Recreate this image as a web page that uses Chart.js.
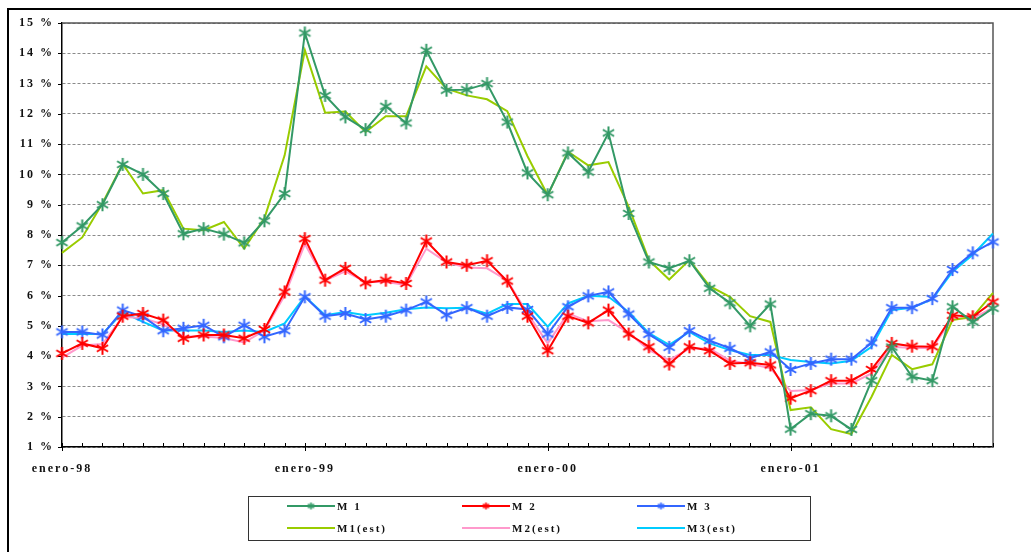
<!DOCTYPE html>
<html lang="es">
<head>
<meta charset="UTF-8">
<title>M1 M2 M3</title>
<script src="https://cdn.jsdelivr.net/npm/chart.js"></script>
<style>
  body { margin: 0; background: #fff; overflow: hidden; }
  #wrap { position: relative; width: 1031px; height: 552px; }
  #frame { position: absolute; left: 7px; top: 8px; width: 1040px; height: 560px; border: 2px solid #000; }
  #c { position: absolute; left: 0; top: 0; }
  #legend { position: absolute; left: 248px; top: 496px; width: 561px; height: 43px; border: 1px solid #333;
            font: bold 11px "Liberation Serif", serif; letter-spacing: 2px; color: #111; }
  #legend .it { position: absolute; display: flex; align-items: center; height: 16px; }
  #legend canvas { display: block; margin-right: 2px; }
</style>
</head>
<body>
<div id="wrap">
  <div id="frame"></div>
  <canvas id="c" width="1031" height="552"></canvas>
  <div id="legend"></div>
</div>
<script>
// datos mensuales, enero-98 .. noviembre-01
const yearLabels = ['enero-98', 'enero-99', 'enero-00', 'enero-01'];
const seriesNames = ['M 1', 'M 2', 'M 3', 'M1(est)', 'M2(est)', 'M3(est)'];

const m1 = [7.75, 8.3, 9.0, 10.33, 10.0, 9.37, 8.04, 8.21, 8.03, 7.74, 8.47, 9.37,
            14.67, 12.61, 11.9, 11.48, 12.25, 11.7, 14.1, 12.78, 12.8, 13.0, 11.73, 10.05,
            9.33, 10.71, 10.08, 11.37, 8.71, 7.11, 6.9, 7.15, 6.24, 5.76, 5.0, 5.72,
            1.59, 2.1, 2.03, 1.58, 3.19, 4.3, 3.32, 3.19, 5.63, 5.13, 5.58];
const m2 = [4.09, 4.42, 4.26, 5.32, 5.41, 5.19, 4.59, 4.7, 4.7, 4.59, 4.88, 6.12,
            7.88, 6.51, 6.9, 6.42, 6.51, 6.4, 7.8, 7.11, 7.0, 7.15, 6.48, 5.32,
            4.18, 5.32, 5.1, 5.52, 4.73, 4.31, 3.74, 4.31, 4.18, 3.76, 3.78, 3.71,
            2.61, 2.86, 3.19, 3.19, 3.56, 4.42, 4.33, 4.31, 5.35, 5.3, 5.79];
const m3 = [4.8, 4.8, 4.7, 5.52, 5.3, 4.84, 4.92, 5.02, 4.64, 5.02, 4.64, 4.84,
            5.96, 5.32, 5.41, 5.21, 5.32, 5.52, 5.79, 5.36, 5.6, 5.32, 5.61, 5.54,
            4.73, 5.63, 5.99, 6.12, 5.39, 4.72, 4.29, 4.84, 4.51, 4.26, 3.93, 4.14,
            3.56, 3.76, 3.9, 3.9, 4.44, 5.6, 5.6, 5.9, 6.86, 7.41, 7.77];
const m1est = [7.41, 7.92, 9.05, 10.35, 9.37, 9.48, 8.21, 8.16, 8.43, 7.55, 8.55, 10.63,
               14.1, 12.04, 12.08, 11.4, 11.92, 11.92, 13.57, 12.83, 12.61, 12.48, 12.09, 10.6,
               9.31, 10.75, 10.3, 10.41, 8.93, 7.17, 6.53, 7.17, 6.31, 5.96, 5.32, 5.13,
               2.22, 2.31, 1.59, 1.43, 2.66, 4.04, 3.57, 3.73, 5.19, 5.3, 6.09];
const m2est = [3.95, 4.35, 4.4, 5.3, 5.25, 5.05, 4.65, 4.65, 4.6, 4.45, 4.85, 6.0,
               7.7, 6.5, 6.8, 6.45, 6.45, 6.35, 7.55, 7.1, 6.93, 6.9, 6.5, 5.41,
               4.42, 5.41, 5.15, 5.19, 4.77, 4.2, 3.87, 4.25, 4.25, 3.85, 3.75, 3.6,
               2.85, 2.88, 3.1, 3.1, 3.43, 4.31, 4.27, 4.27, 5.25, 5.25, 5.6];
const m3est = [4.73, 4.73, 4.73, 5.45, 5.13, 4.85, 4.85, 4.85, 4.8, 4.85, 4.8, 5.08,
               5.97, 5.35, 5.46, 5.35, 5.43, 5.55, 5.61, 5.58, 5.6, 5.4, 5.72, 5.72,
               4.97, 5.74, 5.99, 5.96, 5.46, 4.76, 4.37, 4.8, 4.42, 4.2, 4.04, 4.04,
               3.87, 3.81, 3.76, 3.85, 4.31, 5.52, 5.6, 5.88, 6.79, 7.35, 8.05];

const colors = ['#339966', '#ff0000', '#3366ff', '#99cc00', '#ff99cc', '#00ccff'];

// solo enero lleva texto
const labels = m1.map((v, i) => i % 12 === 0 ? yearLabels[i / 12] : '');

// marcador tipo asterisco (X + raya vertical)
function makeStar(color, size, lw) {
    const cv = document.createElement('canvas');
    cv.width = size; cv.height = size;
    const g = cv.getContext('2d');
    const h = size / 2, r = h - 1;
    g.strokeStyle = color;
    g.lineWidth = lw;
    g.beginPath();
    g.moveTo(h - r * 0.87, h - r * 0.5); g.lineTo(h + r * 0.87, h + r * 0.5);
    g.moveTo(h - r * 0.87, h + r * 0.5); g.lineTo(h + r * 0.87, h - r * 0.5);
    g.moveTo(h, h - r); g.lineTo(h, h + r);
    g.stroke();
    return cv;
}

const values = [m1, m2, m3, m1est, m2est, m3est];
const datasets = values.map((d, i) => ({
    label: seriesNames[i],
    data: d,
    borderColor: colors[i],
    backgroundColor: colors[i],
    borderWidth: 2,
    tension: 0,
    pointStyle: i < 3 ? makeStar(colors[i], 15, 2) : 'circle',
    pointRadius: i < 3 ? 6 : 0,
    clip: false,
    order: i < 3 ? i : i + 3
}));

const axisFont = { family: '"Liberation Serif", serif', size: 12, weight: 'bold' };

const decoPlugin = {
    id: 'deco',
    beforeUpdate(chart) { chart.ctx.letterSpacing = '2px'; },
    beforeDraw(chart) { chart.ctx.letterSpacing = '2px'; },
    beforeDatasetsDraw(chart) {
        const { ctx, chartArea: a, scales: { x, y } } = chart;
        ctx.save();
        ctx.setLineDash([]);
        ctx.strokeStyle = '#555';
        ctx.lineWidth = 1.5;
        ctx.beginPath();
        ctx.moveTo(a.left, a.top); ctx.lineTo(a.right, a.top); ctx.lineTo(a.right, a.bottom);
        ctx.stroke();
        ctx.strokeStyle = '#000';
        ctx.lineWidth = 1;
        ctx.beginPath();
        for (let i = 0; i < labels.length; i++) {
            const px = Math.round(x.getPixelForValue(i)) + 0.5;
            ctx.moveTo(px, a.bottom - 4);
            ctx.lineTo(px, a.bottom + (i % 12 === 0 ? 4 : 0));
        }
        for (let v = 1; v <= 15; v++) {
            const py = Math.round(y.getPixelForValue(v)) + 0.5;
            ctx.moveTo(a.left - 4, py);
            ctx.lineTo(a.left, py);
        }
        ctx.stroke();
        ctx.restore();
    }
};

const chart = new Chart(document.getElementById('c'), {
    type: 'line',
    data: { labels: labels, datasets: datasets },
    options: {
        responsive: false,
        animation: false,
        layout: { padding: { left: 0, top: 23, right: 38, bottom: 75 } },
        plugins: { legend: { display: false }, tooltip: { enabled: false } },
        scales: {
            x: {
                offset: false,
                grid: { display: false },
                border: { display: true, color: '#000', width: 1.5 },
                ticks: { autoSkip: false, maxRotation: 0, padding: 7, color: '#111', font: axisFont },
                afterFit: s => { s.height = 30; }
            },
            y: {
                min: 1, max: 15,
                grid: { color: '#8a8a8a', lineWidth: 1, drawTicks: false },
                border: { display: true, color: '#000', width: 1.5, dash: [3, 2] },
                ticks: { stepSize: 1, padding: 8, color: '#111', font: axisFont,
                         callback: v => v + ' %' },
                afterFit: s => { s.width = 62; }
            }
        }
    },
    plugins: [decoPlugin]
});

// leyenda en HTML, 3 columnas x 2 filas
const legend = document.getElementById('legend');
chart.data.datasets.forEach((ds, i) => {
    const item = document.createElement('div');
    item.className = 'it';
    item.style.left = (38 + (i % 3) * 175) + 'px';
    item.style.top = (1 + Math.floor(i / 3) * 22) + 'px';
    const cv = document.createElement('canvas');
    cv.width = 48; cv.height = 12;
    const g = cv.getContext('2d');
    g.strokeStyle = ds.borderColor;
    g.lineWidth = 2;
    g.beginPath(); g.moveTo(0, 6); g.lineTo(48, 6); g.stroke();
    if (i < 3) g.drawImage(makeStar(ds.borderColor, 9, 1.6), 19.5, 1.5);
    const sp = document.createElement('span');
    sp.textContent = ds.label;
    item.appendChild(cv);
    item.appendChild(sp);
    legend.appendChild(item);
});
</script>
</body>
</html>
